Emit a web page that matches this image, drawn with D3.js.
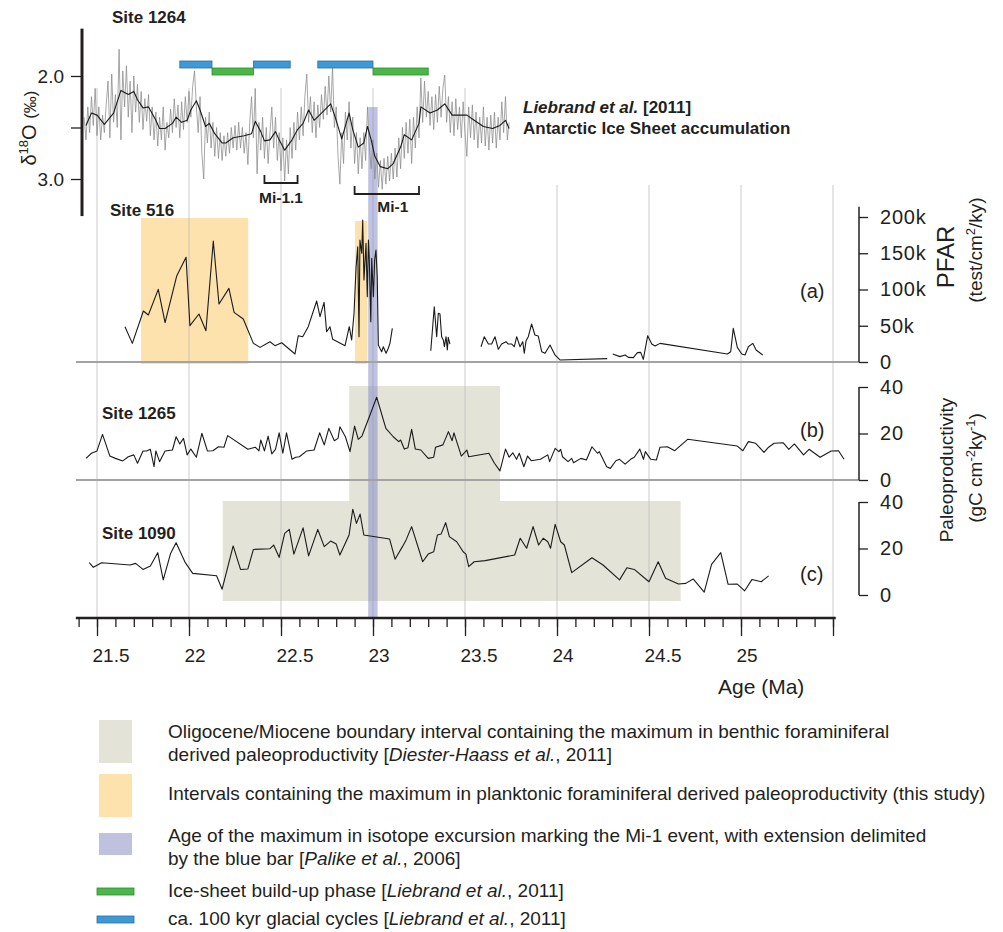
<!DOCTYPE html>
<html>
<head>
<meta charset="utf-8">
<script src="https://cdn.jsdelivr.net/npm/d3@7/dist/d3.min.js"></script>
<style>
  body { margin: 0; background: #fff; }
  svg { display: block; font-family: "Liberation Sans", Arial, Helvetica, sans-serif; fill: #231f20; }
  .grid line { stroke: #bdbdbd; stroke-width: 1.2; stroke-opacity: 0.65; }
  .baseline { stroke: #a3a3a3; stroke-width: 2; }
  .series { fill: none; stroke: #1a1a1a; stroke-width: 1.1; stroke-linejoin: round; }
  .raw { fill: none; stroke: #8a8a8a; stroke-width: 0.75; }
  .axis text { font-size: 19px; fill: #231f20; }
  .axis line { stroke: #231f20; stroke-width: 1.3; }
  .raxis text { font-size: 20px; letter-spacing: 0.8px; }
  .site { font-size: 17px; font-weight: bold; }
  .legend text { font-size: 19px; }
</style>
</head>
<body>
<svg width="1003" height="932"></svg>
<script>
// ---- data --------------------------------------------------------------

// Site 1264 benthic d18O (Liebrand et al. 2011): raw record [age Ma, permil]
var isoRaw = [[21.43,2.40],[21.44,2.62],[21.45,2.30],[21.46,2.55],[21.47,2.20],[21.48,2.48],[21.49,2.12],[21.50,2.58],[21.51,2.30],[21.52,2.62],[21.53,2.38],[21.54,2.55],[21.55,2.28],[21.56,2.05],[21.57,2.60],[21.58,1.98],[21.59,2.45],[21.60,2.18],[21.61,2.50],[21.62,1.74],[21.63,2.62],[21.64,1.95],[21.65,2.30],[21.66,1.90],[21.67,2.40],[21.68,2.05],[21.69,2.55],[21.70,2.00],[21.71,2.35],[21.72,2.08],[21.73,2.45],[21.74,2.15],[21.75,2.52],[21.76,2.22],[21.77,2.44],[21.78,2.18],[21.79,2.58],[21.80,2.30],[21.81,2.62],[21.82,2.35],[21.83,2.68],[21.84,2.40],[21.85,2.62],[21.86,2.30],[21.87,2.72],[21.88,2.45],[21.89,2.60],[21.90,2.32],[21.91,2.55],[21.92,2.22],[21.93,2.50],[21.94,2.28],[21.95,2.60],[21.96,2.25],[21.97,2.52],[21.98,2.20],[21.99,2.45],[22.00,2.15],[22.01,2.40],[22.02,2.10],[22.03,1.95],[22.04,2.30],[22.05,2.55],[22.06,2.20],[22.07,2.75],[22.08,3.00],[22.09,2.40],[22.10,2.65],[22.11,2.35],[22.12,2.70],[22.13,2.45],[22.14,2.78],[22.15,2.50],[22.16,2.80],[22.17,2.55],[22.18,2.82],[22.19,2.58],[22.20,2.78],[22.21,2.55],[22.22,2.75],[22.23,2.50],[22.24,2.70],[22.25,2.48],[22.26,2.72],[22.27,2.45],[22.28,2.70],[22.29,2.50],[22.30,2.75],[22.31,2.55],[22.32,2.86],[22.33,2.45],[22.34,2.20],[22.35,2.60],[22.36,2.12],[22.37,2.95],[22.38,2.45],[22.39,2.72],[22.40,2.40],[22.41,2.80],[22.42,2.50],[22.43,2.85],[22.44,2.55],[22.45,2.30],[22.46,2.70],[22.47,2.40],[22.48,2.82],[22.49,2.55],[22.50,2.92],[22.51,2.60],[22.52,3.02],[22.53,2.62],[22.54,2.95],[22.55,2.50],[22.56,2.80],[22.57,2.45],[22.58,2.72],[22.59,2.35],[22.60,2.62],[22.61,2.30],[22.62,2.58],[22.63,2.20],[22.64,1.98],[22.65,2.45],[22.66,2.20],[22.67,2.55],[22.68,2.25],[22.69,2.60],[22.70,2.28],[22.71,2.50],[22.72,2.18],[22.73,2.42],[22.74,2.10],[22.75,2.38],[22.76,2.00],[22.77,2.35],[22.78,1.90],[22.79,2.50],[22.80,2.30],[22.81,2.78],[22.82,3.05],[22.83,2.55],[22.84,2.85],[22.85,2.35],[22.86,2.62],[22.87,2.25],[22.88,2.70],[22.89,2.40],[22.90,2.85],[22.91,2.55],[22.92,2.95],[22.93,2.60],[22.94,2.90],[22.95,2.55],[22.96,2.82],[22.97,2.30],[22.98,2.70],[22.99,2.90],[23.00,2.62],[23.01,3.00],[23.02,2.75],[23.03,3.08],[23.04,2.82],[23.05,3.10],[23.06,2.80],[23.07,3.05],[23.08,2.78],[23.09,3.02],[23.10,2.75],[23.11,3.00],[23.12,2.70],[23.13,2.98],[23.14,2.60],[23.15,2.90],[23.16,2.50],[23.17,2.80],[23.18,2.45],[23.19,2.75],[23.20,2.42],[23.21,2.85],[23.22,2.40],[23.23,2.70],[23.24,2.30],[23.25,2.60],[23.26,2.02],[23.27,2.45],[23.28,2.05],[23.29,2.40],[23.30,2.15],[23.31,2.48],[23.32,2.20],[23.33,2.52],[23.34,2.18],[23.35,2.45],[23.36,2.10],[23.37,2.40],[23.38,2.12],[23.39,1.99],[23.40,2.45],[23.41,2.20],[23.42,2.55],[23.43,2.25],[23.44,2.58],[23.45,2.22],[23.46,2.52],[23.47,2.30],[23.48,2.60],[23.49,2.25],[23.50,2.55],[23.51,2.78],[23.52,2.30],[23.53,2.60],[23.54,2.28],[23.55,2.62],[23.56,2.35],[23.57,2.70],[23.58,2.40],[23.59,2.65],[23.60,2.30],[23.61,2.68],[23.62,2.40],[23.63,2.72],[23.64,2.38],[23.65,2.65],[23.66,2.35],[23.67,2.70],[23.68,2.40],[23.69,2.62],[23.70,2.25],[23.71,2.55],[23.72,2.20],[23.73,2.62],[23.74,2.45]];

// Site 1264 smoothed d18O
var isoSmooth = [[21.44,2.48],[21.47,2.36],[21.50,2.38],[21.54,2.47],[21.59,2.36],[21.63,2.14],[21.67,2.18],[21.70,2.15],[21.72,2.23],[21.75,2.31],[21.78,2.30],[21.82,2.43],[21.84,2.51],[21.87,2.51],[21.91,2.46],[21.93,2.40],[21.96,2.45],[21.99,2.43],[22.01,2.33],[22.04,2.24],[22.06,2.33],[22.09,2.49],[22.11,2.46],[22.14,2.56],[22.18,2.65],[22.20,2.65],[22.24,2.60],[22.30,2.58],[22.34,2.56],[22.36,2.44],[22.39,2.54],[22.41,2.63],[22.44,2.62],[22.47,2.54],[22.49,2.62],[22.52,2.72],[22.56,2.62],[22.59,2.52],[22.62,2.46],[22.65,2.33],[22.68,2.43],[22.72,2.36],[22.77,2.27],[22.80,2.43],[22.83,2.61],[22.87,2.36],[22.89,2.52],[22.92,2.69],[22.95,2.65],[22.97,2.49],[22.99,2.62],[23.01,2.78],[23.04,2.88],[23.08,2.90],[23.11,2.85],[23.15,2.69],[23.17,2.57],[23.21,2.62],[23.25,2.46],[23.26,2.30],[23.31,2.36],[23.35,2.33],[23.39,2.27],[23.43,2.38],[23.47,2.38],[23.51,2.38],[23.55,2.43],[23.60,2.49],[23.65,2.51],[23.69,2.48],[23.72,2.43],[23.74,2.51]];

// Liebrand et al. phases [start, end] in Ma
var glacialCycles = [[21.95, 22.125], [22.35, 22.55], [22.70, 23.00]];
var buildUpPhases = [[22.125, 22.35], [23.00, 23.30]];
var miEvents = [{name: "Mi-1.1", from: 22.41, to: 22.59}, {name: "Mi-1", from: 22.90, to: 23.25}];

// Site 516 PFAR (10^3 test/cm2/ky), four separate runs
var pfarSeg1 = [[21.652,48.7],[21.692,25.7],[21.752,70.3],[21.779,64.8],[21.833,100.2],[21.870,54.2],[21.933,118.6],[21.984,144.4],[22.005,50.1],[22.054,66.2],[22.092,43.2],[22.132,166.9],[22.163,80.0],[22.217,101.6],[22.245,68.5],[22.295,59.3],[22.350,25.7],[22.386,20.2],[22.440,28.0],[22.467,22.5],[22.504,26.6],[22.576,11.0],[22.594,36.3],[22.618,34.9],[22.648,48.7],[22.694,84.1],[22.712,62.5],[22.734,82.3],[22.748,41.8],[22.766,48.7],[22.781,31.3],[22.848,22.5],[22.871,48.7],[22.884,30.3],[22.897,67.2],[22.908,131.4],[22.917,159.0],[22.924,34.9],[22.929,168.2],[22.939,149.9],[22.944,195.8],[22.951,113.1],[22.957,140.7],[22.962,163.7],[22.969,90.1],[22.975,168.2],[22.980,140.7],[22.988,55.6],[22.993,143.0],[23.002,90.1],[23.009,140.7],[23.016,154.4],[23.023,117.6],[23.029,23.4],[23.047,14.2],[23.056,21.1],[23.071,12.0],[23.083,18.9],[23.092,25.7],[23.105,46.4]];
var pfarSeg2 = [[23.314,15.6],[23.333,76.3],[23.346,34.9],[23.355,67.2],[23.364,66.2],[23.373,34.9],[23.382,30.3],[23.388,21.1],[23.397,34.9],[23.404,16.5],[23.409,34.1],[23.418,24.8]];
var pfarSeg3 = [[23.587,21.1],[23.605,34.9],[23.627,24.8],[23.645,24.8],[23.663,34.9],[23.681,17.5],[23.699,24.8],[23.723,28.0],[23.735,24.8],[23.754,24.8],[23.768,21.1],[23.781,34.9],[23.799,21.1],[23.814,28.0],[23.822,12.0],[23.832,29.4],[23.844,34.9],[23.862,52.4],[23.880,37.2],[23.898,35.9],[23.917,14.2],[23.935,12.0],[23.962,23.4],[23.989,9.7],[24.016,2.8],[24.273,4.6]];
var pfarSeg4 = [[24.303,11.0],[24.342,7.4],[24.370,9.7],[24.388,6.4],[24.415,6.0],[24.437,12.9],[24.455,13.3],[24.469,3.7],[24.493,36.3],[24.515,24.8],[24.533,22.1],[24.560,25.7],[24.926,11.0],[24.944,14.2],[24.958,46.4],[24.980,20.2],[25.004,11.0],[25.022,9.7],[25.040,21.1],[25.064,25.7],[25.082,16.5],[25.118,9.7]];
var pfarSegments = [pfarSeg1, pfarSeg2, pfarSeg3, pfarSeg4];

// Site 1265 paleoproductivity (gC cm-2 ky-1)
var site1265 = [[21.44,9.3],[21.47,11.5],[21.50,12.5],[21.53,19.6],[21.57,10.3],[21.60,9.3],[21.64,8.2],[21.67,10.0],[21.70,10.8],[21.72,7.2],[21.75,12.5],[21.77,12.5],[21.79,13.2],[21.81,5.7],[21.82,12.5],[21.84,7.9],[21.87,12.5],[21.91,12.9],[21.93,18.6],[21.95,15.5],[21.97,17.9],[21.99,10.8],[22.01,13.3],[22.04,9.8],[22.07,20.1],[22.10,12.5],[22.13,12.6],[22.16,14.3],[22.19,14.1],[22.21,19.1],[22.32,13.2],[22.36,14.1],[22.38,12.5],[22.39,17.2],[22.41,12.5],[22.43,18.9],[22.45,11.2],[22.47,13.2],[22.49,20.3],[22.51,11.5],[22.53,20.3],[22.56,8.9],[22.58,9.8],[22.60,10.0],[22.64,12.5],[22.68,12.9],[22.71,20.3],[22.735,15.1],[22.76,22.2],[22.79,16.9],[22.81,17.9],[22.82,22.9],[22.85,18.6],[22.875,12.2],[22.90,23.2],[22.92,17.5],[22.94,18.9],[22.98,27.2],[23.02,35.6],[23.07,22.2],[23.11,18.6],[23.14,16.5],[23.15,17.2],[23.17,13.3],[23.19,13.9],[23.21,21.8],[23.23,13.3],[23.26,12.9],[23.30,9.3],[23.33,9.8],[23.34,14.1],[23.38,15.1],[23.41,20.8],[23.43,16.9],[23.44,20.3],[23.48,10.3],[23.51,12.9],[23.52,10.0],[23.63,11.5],[23.66,7.2],[23.69,3.9],[23.72,13.3],[23.74,9.8],[23.76,11.7],[23.78,8.9],[23.795,11.5],[23.82,5.7],[23.84,10.3],[23.86,8.3],[23.91,8.9],[23.95,10.8],[23.96,7.9],[23.99,13.6],[24.01,12.2],[24.02,13.2],[24.03,10.0],[24.06,7.9],[24.08,9.3],[24.09,7.4],[24.13,9.3],[24.16,8.6],[24.19,14.3],[24.22,11.5],[24.23,12.2],[24.27,5.7],[24.29,5.0],[24.32,8.3],[24.34,8.9],[24.37,6.8],[24.40,8.9],[24.42,9.8],[24.45,13.3],[24.47,8.9],[24.48,12.2],[24.51,8.9],[24.54,8.6],[24.56,14.1],[24.60,14.3],[24.64,12.6],[24.71,17.5],[24.98,14.6],[25.01,12.6],[25.04,16.5],[25.08,15.8],[25.125,11.9],[25.15,14.1],[25.18,15.8],[25.23,16.0],[25.26,13.2],[25.29,15.5],[25.34,10.8],[25.37,13.2],[25.43,9.8],[25.49,12.5],[25.53,12.6],[25.56,8.9]];

// Site 1090 paleoproductivity (gC cm-2 ky-1)
var site1090 = [[21.458,13.9],[21.48,11.9],[21.525,13.9],[21.68,12.9],[21.71,13.6],[21.75,11.0],[21.79,12.5],[21.83,18.2],[21.86,6.5],[21.90,17.9],[21.93,22.5],[21.98,13.9],[22.02,9.3],[22.15,8.3],[22.18,2.5],[22.24,21.1],[22.28,11.0],[22.32,11.2],[22.35,19.6],[22.44,19.9],[22.46,21.5],[22.49,16.2],[22.52,26.5],[22.545,28.2],[22.57,17.6],[22.62,28.9],[22.65,16.8],[22.70,28.2],[22.735,20.8],[22.77,23.2],[22.80,21.9],[22.82,17.2],[22.87,25.8],[22.89,36.9],[22.91,30.8],[22.93,34.8],[22.95,25.8],[23.09,24.1],[23.12,15.4],[23.16,20.8],[23.18,23.7],[23.21,29.4],[23.27,14.3],[23.30,17.6],[23.33,18.6],[23.35,25.8],[23.37,26.2],[23.395,31.1],[23.415,25.1],[23.455,22.9],[23.49,18.6],[23.505,17.6],[23.52,12.2],[23.55,14.3],[23.61,14.8],[23.77,17.2],[23.80,24.4],[23.835,20.1],[23.87,29.4],[23.90,21.5],[23.925,24.4],[23.95,22.9],[23.965,20.1],[23.99,30.4],[24.02,22.9],[24.04,21.5],[24.08,9.6],[24.19,16.0],[24.25,12.9],[24.34,6.5],[24.38,11.7],[24.42,11.0],[24.50,5.7],[24.55,14.3],[24.59,7.2],[24.66,4.7],[24.70,5.0],[24.74,6.9],[24.80,1.2],[24.84,13.2],[24.89,18.2],[24.93,4.6],[24.98,4.7],[25.02,1.8],[25.06,6.7],[25.11,5.7],[25.15,8.2]];

// shaded intervals [start, end] in Ma
var benthicMaxB = [22.871, 23.690];   // Diester-Haass et al. interval, Site 1265 row
var benthicMaxC = [22.183, 24.672];   // Diester-Haass et al. interval, Site 1090 row
var planktonicMax = [[21.739, 22.322], [22.902, 22.969]];
var mi1Age = [22.974, 23.025];

// axis ticks
var ageMajor = [21.5, 22, 22.5, 23, 23.5, 24, 24.5, 25, 25.5];
var ageLabels = ["21.5", "22", "22.5", "23", "23.5", "24", "24.5", "25"];
var isoTicks = [2.0, 2.5, 3.0];
var pfarTicks = [0, 50, 100, 150, 200];
var prodTicks = [0, 20, 40];

// ---- drawing -------------------------------------------------------------

var svg = d3.select("svg");

var x = d3.scaleLinear().domain([21.5, 25.5]).range([97, 833]);
var yIso = d3.scaleLinear().domain([2.0, 3.0]).range([76, 179]);
var yPfar = d3.scaleLinear().domain([0, 200]).range([362, 217]);
var yB = d3.scaleLinear().domain([0, 40]).range([480, 387]);
var yC = d3.scaleLinear().domain([0, 40]).range([595, 502]);

var axisY = 618, rightX = 859;

// shaded boxes
var shade = svg.append("g").attr("class", "shade");
shade.append("rect")
  .attr("x", x(benthicMaxB[0])).attr("y", 386)
  .attr("width", x(benthicMaxB[1]) - x(benthicMaxB[0])).attr("height", 115)
  .attr("fill", "#e3e3d8");
shade.append("rect")
  .attr("x", x(benthicMaxC[0])).attr("y", 501)
  .attr("width", x(benthicMaxC[1]) - x(benthicMaxC[0])).attr("height", 100)
  .attr("fill", "#e3e3d8");
shade.selectAll("rect.plank")
  .data(planktonicMax)
  .enter().append("rect")
  .attr("class", "plank")
  .attr("x", function(d) { return x(d[0]); })
  .attr("y", function(d, i) { return i === 0 ? 218 : 221; })
  .attr("width", function(d) { return x(d[1]) - x(d[0]); })
  .attr("height", function(d, i) { return i === 0 ? 146 : 143; })
  .attr("fill", "#fde2ae");

// vertical grid lines
svg.append("g").attr("class", "grid")
  .selectAll("line")
  .data(ageMajor)
  .enter().append("line")
  .attr("x1", function(d) { return x(d); })
  .attr("x2", function(d) { return x(d); })
  .attr("y1", function(d) { return d <= 23.5 ? 88 : 185; })
  .attr("y2", axisY);

// Mi-1 age bar
svg.append("rect")
  .attr("x", x(mi1Age[0])).attr("y", 107)
  .attr("width", x(mi1Age[1]) - x(mi1Age[0])).attr("height", axisY - 107)
  .attr("fill", "#8a90c8").attr("fill-opacity", 0.55);

// panel baselines
svg.append("line").attr("class", "baseline")
  .attr("x1", 76).attr("x2", rightX).attr("y1", yPfar(0)).attr("y2", yPfar(0));
svg.append("line").attr("class", "baseline")
  .attr("x1", 76).attr("x2", rightX).attr("y1", yB(0)).attr("y2", yB(0));

// ---- Site 1264 isotope panel
var isoLine = d3.line()
  .x(function(d) { return x(d[0]); })
  .y(function(d) { return yIso(d[1]); });

svg.append("path").datum(isoRaw).attr("class", "raw").attr("d", isoLine);
svg.append("path").datum(isoSmooth).attr("class", "series")
  .attr("stroke-width", 1.2).attr("d", isoLine);

var bars = svg.append("g");
bars.selectAll("rect.cyc")
  .data(glacialCycles)
  .enter().append("rect")
  .attr("x", function(d) { return x(d[0]); })
  .attr("y", 61)
  .attr("width", function(d) { return x(d[1]) - x(d[0]); })
  .attr("height", 7)
  .attr("fill", "#3d9ad7").attr("stroke", "#2d6f98").attr("stroke-width", 0.8);
bars.selectAll("rect.bld")
  .data(buildUpPhases)
  .enter().append("rect")
  .attr("x", function(d) { return x(d[0]); })
  .attr("y", 68)
  .attr("width", function(d) { return x(d[1]) - x(d[0]); })
  .attr("height", 7)
  .attr("fill", "#4cb748").attr("stroke", "#2f8a2f").attr("stroke-width", 0.8);

// Mi brackets
var brk = svg.append("g").selectAll("g")
  .data(miEvents)
  .enter().append("g")
  .attr("transform", function(d, i) { return "translate(0," + (i === 0 ? 175 : 186) + ")"; });
brk.append("path")
  .attr("d", function(d) { return "M" + x(d.from) + ",0V8H" + x(d.to) + "V0"; })
  .attr("fill", "none").attr("stroke", "#231f20").attr("stroke-width", 1.8);
brk.append("text")
  .attr("x", function(d) { return (x(d.from) + x(d.to)) / 2 + (d.name === "Mi-1" ? 6 : 0); })
  .attr("y", function(d, i) { return i === 0 ? 28 : 26; })
  .attr("text-anchor", "middle")
  .attr("font-size", 15.5).attr("font-weight", "bold")
  .text(function(d) { return d.name; });

// left isotope axis
svg.append("line")
  .attr("x1", 82).attr("x2", 82).attr("y1", yIso(1.54)).attr("y2", yIso(3.36))
  .attr("stroke", "#231f20").attr("stroke-width", 3);
svg.append("g").attr("class", "axis")
  .attr("transform", "translate(82,0)")
  .call(d3.axisLeft(yIso).tickValues(isoTicks).tickSize(11).tickPadding(7)
    .tickFormat(function(d) { return d === 2.5 ? "" : d.toFixed(1); }))
  .call(function(g) { g.select(".domain").remove(); });

var isoTitle = svg.append("text")
  .attr("transform", "translate(36,128)rotate(-90)")
  .attr("text-anchor", "middle").attr("font-size", 20);
isoTitle.append("tspan").text("δ");
isoTitle.append("tspan").attr("dy", -8).attr("font-size", 13).text("18");
isoTitle.append("tspan").attr("dy", 8).text("O ");
isoTitle.append("tspan").attr("font-size", 17).text("(‰)");

svg.append("text").attr("class", "site").attr("x", 112).attr("y", 23).text("Site 1264");

var lieb = svg.append("text").attr("x", 523).attr("y", 113)
  .attr("font-size", 17).attr("font-weight", "bold");
lieb.append("tspan").attr("font-style", "italic").text("Liebrand et al.");
lieb.append("tspan").text(" [2011]");
svg.append("text").attr("x", 523).attr("y", 134)
  .attr("font-size", 17).attr("font-weight", "bold")
  .text("Antarctic Ice Sheet accumulation");

// ---- Site 516 PFAR panel
var pfarLine = d3.line()
  .x(function(d) { return x(d[0]); })
  .y(function(d) { return yPfar(d[1]); });
svg.append("g").selectAll("path")
  .data(pfarSegments)
  .enter().append("path")
  .attr("class", "series").attr("stroke-width", 1.2)
  .attr("d", pfarLine);
svg.append("text").attr("class", "site").attr("x", 110).attr("y", 216).text("Site 516");

// ---- Site 1265 and 1090 panels
svg.append("path").datum(site1265).attr("class", "series")
  .attr("d", d3.line().x(function(d) { return x(d[0]); }).y(function(d) { return yB(d[1]); }));
svg.append("path").datum(site1090).attr("class", "series")
  .attr("d", d3.line().x(function(d) { return x(d[0]); }).y(function(d) { return yC(d[1]); }));
svg.append("text").attr("class", "site").attr("x", 102).attr("y", 419).text("Site 1265");
svg.append("text").attr("class", "site").attr("x", 102).attr("y", 539).text("Site 1090");

// panel letters
svg.selectAll("text.letter")
  .data([["(a)", 298], ["(b)", 437], ["(c)", 581]])
  .enter().append("text")
  .attr("class", "letter")
  .attr("x", 800).attr("y", function(d) { return d[1]; })
  .attr("font-size", 20)
  .text(function(d) { return d[0]; });

// ---- right axes
function rightAxis(scale, ticks, fmt, top) {
  svg.append("line")
    .attr("x1", rightX).attr("x2", rightX)
    .attr("y1", scale(top)).attr("y2", scale(0))
    .attr("stroke", "#231f20").attr("stroke-width", 1.5);
  svg.append("g").attr("class", "axis raxis")
    .attr("transform", "translate(" + rightX + ",0)")
    .call(d3.axisRight(scale).tickValues(ticks).tickSize(9).tickPadding(12).tickFormat(fmt))
    .call(function(g) { g.select(".domain").remove(); });
}
rightAxis(yPfar, pfarTicks, function(d) { return d === 0 ? "0" : d + "k"; }, 214);
rightAxis(yB, prodTicks, function(d) { return d; }, 40);
rightAxis(yC, prodTicks, function(d) { return d; }, 40);

svg.append("text")
  .attr("transform", "translate(954,257)rotate(-90)")
  .attr("text-anchor", "middle").attr("font-size", 24)
  .text("PFAR");
var pfarUnit = svg.append("text")
  .attr("transform", "translate(982,250)rotate(-90)")
  .attr("text-anchor", "middle").attr("font-size", 19);
pfarUnit.append("tspan").text("(test/cm");
pfarUnit.append("tspan").attr("dy", -7).attr("font-size", 13).text("2");
pfarUnit.append("tspan").attr("dy", 7).text("/ky)");

svg.append("text")
  .attr("transform", "translate(953,470)rotate(-90)")
  .attr("text-anchor", "middle").attr("font-size", 19)
  .text("Paleoproductivity");
var prodUnit = svg.append("text")
  .attr("transform", "translate(982,468)rotate(-90)")
  .attr("text-anchor", "middle").attr("font-size", 19);
prodUnit.append("tspan").text("(gC cm");
prodUnit.append("tspan").attr("dy", -7).attr("font-size", 13).text("-2");
prodUnit.append("tspan").attr("dy", 7).text("ky");
prodUnit.append("tspan").attr("dy", -7).attr("font-size", 13).text("-1");
prodUnit.append("tspan").attr("dy", 7).text(")");

// ---- age axis
svg.append("line")
  .attr("x1", x(21.385)).attr("x2", x(25.515)).attr("y1", axisY).attr("y2", axisY)
  .attr("stroke", "#231f20").attr("stroke-width", 2.5);
svg.append("g").attr("class", "axis")
  .attr("transform", "translate(0," + axisY + ")")
  .call(d3.axisBottom(x).tickValues(d3.range(21.4, 25.55, 0.1)).tickSize(9).tickFormat(""))
  .call(function(g) { g.select(".domain").remove(); });
var xa = svg.append("g").attr("class", "axis")
  .attr("transform", "translate(0," + axisY + ")")
  .call(d3.axisBottom(x).tickValues(ageMajor).tickSize(18).tickPadding(13)
    .tickFormat(function(d, i) { return ageLabels[i] || ""; }))
  .call(function(g) { g.select(".domain").remove(); });
xa.selectAll("text").attr("text-anchor", "start").attr("x", -5);
svg.append("text").attr("x", 718).attr("y", 694).attr("font-size", 21).text("Age (Ma)");

// ---- legend
var legend = svg.append("g").attr("class", "legend");
legend.append("rect").attr("x", 99).attr("y", 720).attr("width", 33).attr("height", 43).attr("fill", "#e3e3d8");
legend.append("rect").attr("x", 99).attr("y", 774).attr("width", 33).attr("height", 43).attr("fill", "#fde2ae");
legend.append("rect").attr("x", 99).attr("y", 833).attr("width", 33).attr("height", 22).attr("fill", "#bfc1de");
legend.append("rect").attr("x", 97).attr("y", 888).attr("width", 37).attr("height", 7)
  .attr("fill", "#4cb748").attr("stroke", "#2f8a2f").attr("stroke-width", 0.8);
legend.append("rect").attr("x", 97).attr("y", 916).attr("width", 37).attr("height", 7)
  .attr("fill", "#3d9ad7").attr("stroke", "#2d6f98").attr("stroke-width", 0.8);

var legendLines = [
  [738, [["Oligocene/Miocene boundary interval containing the maximum in benthic foraminiferal", 0]]],
  [761, [["derived paleoproductivity [", 0], ["Diester-Haass et al.", 1], [", 2011]", 0]]],
  [800, [["Intervals containing the maximum in planktonic foraminiferal derived paleoproductivity (this study)", 0]]],
  [842, [["Age of the maximum in isotope excursion marking the Mi-1 event, with extension delimited", 0]]],
  [865, [["by the blue bar [", 0], ["Palike et al.", 1], [", 2006]", 0]]],
  [897, [["Ice-sheet build-up phase [", 0], ["Liebrand et al.", 1], [", 2011]", 0]]],
  [925, [["ca. 100 kyr glacial cycles [", 0], ["Liebrand et al.", 1], [", 2011]", 0]]]
];
legend.selectAll("text.lg")
  .data(legendLines)
  .enter().append("text")
  .attr("class", "lg")
  .attr("x", 168).attr("y", function(d) { return d[0]; })
  .each(function(d) {
    var t = d3.select(this);
    d[1].forEach(function(p) {
      t.append("tspan").attr("font-style", p[1] ? "italic" : "normal").text(p[0]);
    });
  });
</script>
</body>
</html>
